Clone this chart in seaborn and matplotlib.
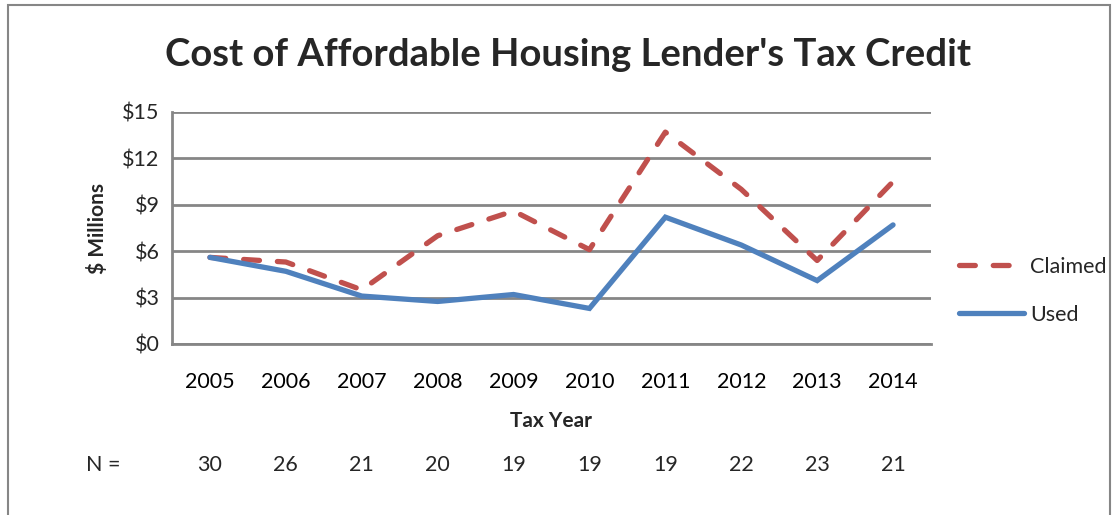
import matplotlib
matplotlib.use("Agg")
import matplotlib.pyplot as plt
import seaborn as sns
import pandas as pd
from matplotlib.patches import Rectangle
from matplotlib.lines import Line2D

years = ["2005", "2006", "2007", "2008", "2009", "2010", "2011", "2012", "2013", "2014"]
claimed = [5.6, 5.3, 3.5, 7.0, 8.6, 6.1, 13.7, 10.0, 5.4, 10.5]
used = [5.6, 4.7, 3.1, 2.75, 3.2, 2.3, 8.2, 6.4, 4.1, 7.7]
n_counts = [30, 26, 21, 20, 19, 19, 19, 22, 23, 21]
y_ticks = [0, 3, 6, 9, 12, 15]
y_labels = ["$0", "$3", "$6", "$9", "$12", "$15"]

sns.set_theme(style="white")
plt.rcParams['font.family'] = ['Lato', 'DejaVu Sans']

df = pd.DataFrame({
    "Tax Year": years * 2,
    "Value": claimed + used,
    "Series": ["Claimed"] * len(years) + ["Used"] * len(years),
})

fig = plt.figure(figsize=(11.19, 5.15), dpi=100)
ax = fig.add_axes([172 / 1119, 1 - 344 / 515, (931 - 172) / 1119, (344 - 112) / 515])

LW = 3.8
DASH = (3.0, 3.4)
palette = {"Claimed": "#C0504D", "Used": "#4F81BD"}
sns.lineplot(data=df, x="Tax Year", y="Value", hue="Series", style="Series",
             palette=palette, dashes={"Claimed": DASH, "Used": ""},
             linewidth=LW, ax=ax, sort=False, legend=False)
for line in ax.lines:
    line.set_dash_capstyle("round")
    line.set_solid_capstyle("round")
    line.set_solid_joinstyle("miter")

ax.set_xlim(-0.5, 9.5)
ax.set_ylim(0, 15)
ax.set_yticks(y_ticks)
ax.set_yticklabels(y_labels)
ax.set_xticks(range(len(years)))
ax.set_xticklabels(years)
ax.set_xticks([i - 0.5 for i in range(len(years) + 1)], minor=True)
ax.tick_params(axis="x", which="major", length=0, pad=20, labelsize=15.5, colors="#000000")
ax.tick_params(axis="x", which="minor", length=7, width=1.8, color="#868686", direction="out")
ax.tick_params(axis="y", length=6, width=1.8, color="#868686", direction="out", labelsize=15.5, pad=3)
ax.yaxis.grid(True, color="#868686", linewidth=2.0)
ax.xaxis.grid(False)
ax.set_axisbelow(True)
for s in ["top", "right"]:
    ax.spines[s].set_visible(False)
for s in ["left", "bottom"]:
    ax.spines[s].set_color("#868686")
    ax.spines[s].set_linewidth(2.0)

ax.set_xlabel("Tax Year", fontsize=15, fontweight="bold", labelpad=14)
ax.set_ylabel("$ Millions", fontsize=15, fontweight="bold", labelpad=10)

fig.text(568 / 1119, 1 - 55 / 515, "Cost of Affordable Housing Lender's Tax Credit",
         ha="center", va="center", fontsize=27.5, fontweight="bold")

# N row
fig.text(103 / 1119, 1 - 465 / 515, "N =", ha="center", va="center", fontsize=15.5)
for i, n in enumerate(n_counts):
    xd = ax.transData.transform((i, 0))[0]
    fig.text(xd / 1119, 1 - 465 / 515, str(n), ha="center", va="center", fontsize=15.5)

# legend
handles = [
    Line2D([0], [0], color=palette["Claimed"], linewidth=LW, dashes=DASH, dash_capstyle="round"),
    Line2D([0], [0], color=palette["Used"], linewidth=LW, solid_capstyle="round"),
]
fig.legend(handles, ["Claimed", "Used"], loc="center left",
           bbox_to_anchor=(940 / 1119, 1 - 291 / 515), frameon=False,
           fontsize=15.5, handlelength=3.0, handletextpad=0.3, labelspacing=1.3)

fig.patches.append(Rectangle((8 / 1119, -0.05), (1110 - 8) / 1119, 1.04, transform=fig.transFigure,
                             fill=False, edgecolor="#868686", linewidth=1.5))

fig.savefig("out.png", dpi=100)
